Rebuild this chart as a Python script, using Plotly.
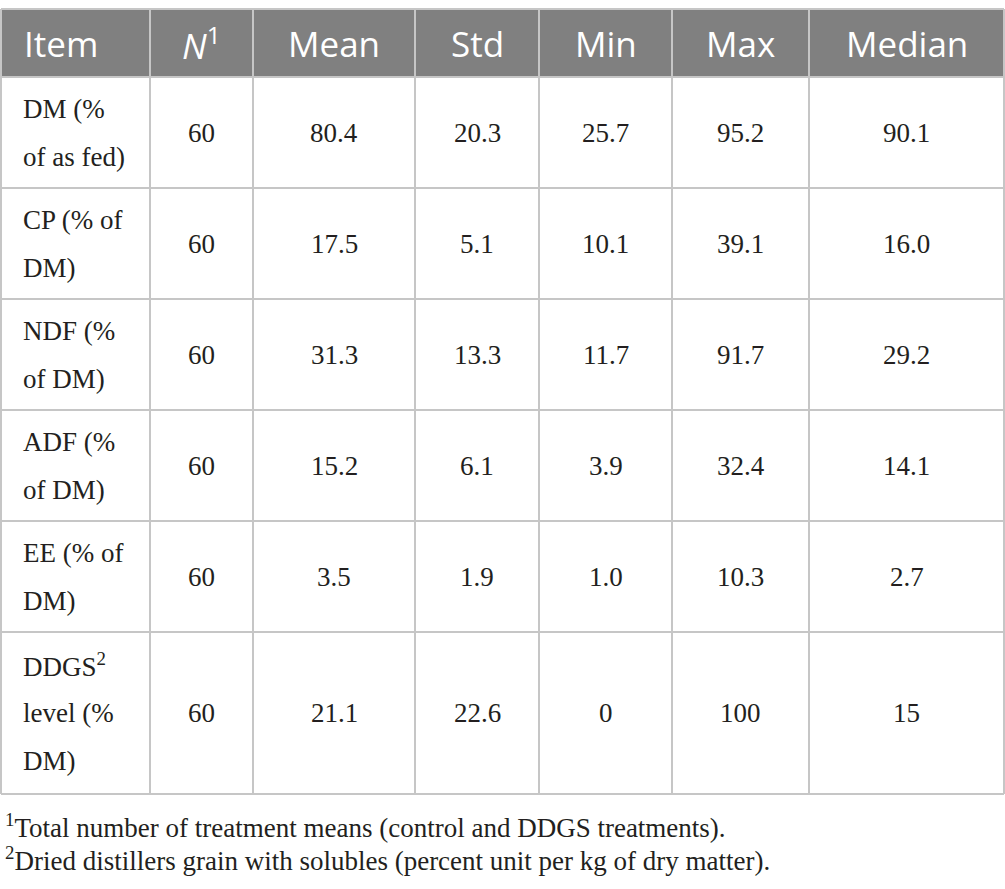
import plotly.graph_objects as go

headers = ["Item", "<i>N</i><sup>1</sup>", "Mean", "Std", "Min", "Max", "Median"]
items = [
    ["DM (%", "of as fed)"],
    ["CP (% of", "DM)"],
    ["NDF (%", "of DM)"],
    ["ADF (%", "of DM)"],
    ["EE (% of", "DM)"],
    ["DDGS<sup>2</sup>", "level (%", "DM)"],
]
n_obs = ["60", "60", "60", "60", "60", "60"]
mean = ["80.4", "17.5", "31.3", "15.2", "3.5", "21.1"]
std = ["20.3", "5.1", "13.3", "6.1", "1.9", "22.6"]
minimum = ["25.7", "10.1", "11.7", "3.9", "1.0", "0"]
maximum = ["95.2", "39.1", "91.7", "32.4", "10.3", "100"]
median = ["90.1", "16.0", "29.2", "14.1", "2.7", "15"]
footnotes = [
    "<sup>1</sup>Total number of treatment means (control and DDGS treatments).",
    "<sup>2</sup>Dried distillers grain with solubles (percent unit per kg of dry matter).",
]

W, H = 1005, 889
col_edges = [1, 150, 253, 415, 539, 672, 809, 1004]
row_edges = [9, 77, 188, 299, 410, 521, 632, 794]
line_gap = 48
grid = "#c6c6c6"
ink = "#231f20"
serif = "Liberation Serif"

fig = go.Figure()
shapes = []
annotations = []

# header band
shapes.append(dict(type="rect", xref="x", yref="y", x0=col_edges[0], x1=col_edges[-1],
                   y0=row_edges[0], y1=row_edges[1], fillcolor="#808080",
                   line=dict(width=0), layer="below"))
# grid
for y in row_edges:
    shapes.append(dict(type="line", xref="x", yref="y", x0=col_edges[0], x1=col_edges[-1],
                       y0=y, y1=y, line=dict(color=grid, width=2)))
for x in col_edges:
    shapes.append(dict(type="line", xref="x", yref="y", x0=x, x1=x,
                       y0=row_edges[0], y1=row_edges[-1], line=dict(color=grid, width=2)))

# header text
hy = (row_edges[0] + row_edges[1]) / 2
for j, h in enumerate(headers):
    if j == 0:
        x, anchor = 22, "left"
    else:
        x, anchor = (col_edges[j] + col_edges[j + 1]) / 2, "center"
    annotations.append(dict(x=x, y=hy, xref="x", yref="y", text=h, showarrow=False,
                            xanchor=anchor, yanchor="middle",
                            font=dict(family="Open Sans", size=35, color="white")))

# body
columns = [n_obs, mean, std, minimum, maximum, median]
for i, lines in enumerate(items):
    cy = (row_edges[i + 1] + row_edges[i + 2]) / 2
    for k, t in enumerate(lines):
        ly = cy + (k - (len(lines) - 1) / 2) * line_gap
        annotations.append(dict(x=21, y=ly, xref="x", yref="y", text=t,
                                showarrow=False, xanchor="left", yanchor="middle",
                                font=dict(family=serif, size=27, color=ink)))
    for j, col in enumerate(columns):
        x = (col_edges[j + 1] + col_edges[j + 2]) / 2
        annotations.append(dict(x=x, y=cy, xref="x", yref="y", text=col[i], showarrow=False,
                                xanchor="center", yanchor="middle",
                                font=dict(family=serif, size=27, color=ink)))

# footnotes
for k, t in enumerate(footnotes):
    annotations.append(dict(x=3, y=826 + k * 33, xref="x", yref="y", text=t, showarrow=False,
                            xanchor="left", yanchor="middle",
                            font=dict(family=serif, size=27, color=ink)))

fig.update_layout(
    width=W, height=H,
    margin=dict(l=0, r=0, t=0, b=0),
    paper_bgcolor="white", plot_bgcolor="white",
    xaxis=dict(range=[0, W], visible=False, fixedrange=True),
    yaxis=dict(range=[H, 0], visible=False, fixedrange=True),
    shapes=shapes,
    annotations=annotations,
    showlegend=False,
)
# drop the default page margin so the figure sits at the window's corner
fig.write_html("out.html", config={"displayModeBar": False},
               post_script="document.body.style.margin='0';document.body.style.overflow='hidden';")
